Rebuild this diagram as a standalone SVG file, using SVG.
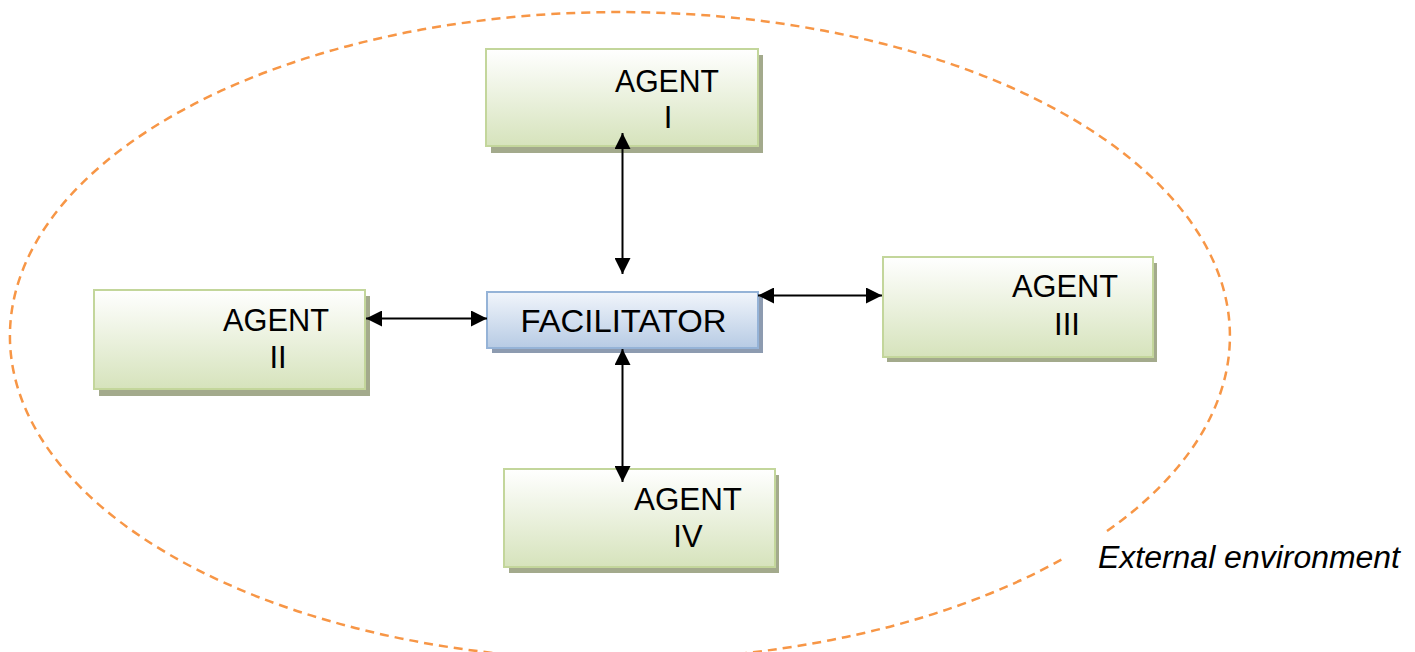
<svg xmlns="http://www.w3.org/2000/svg" width="1415" height="652" viewBox="0 0 1415 652">
<defs>
<linearGradient id="gGreen" x1="0" y1="0" x2="0" y2="1">
<stop offset="0" stop-color="#ffffff"/>
<stop offset="1" stop-color="#d6e3bc"/>
</linearGradient>
<linearGradient id="gBlue" x1="0" y1="0" x2="0" y2="1">
<stop offset="0" stop-color="#f1f5fb"/>
<stop offset="1" stop-color="#b7cbe4"/>
</linearGradient>
<marker id="ah" viewBox="0 0 10 10" refX="10" refY="5" markerWidth="8" markerHeight="8" markerUnits="strokeWidth" orient="auto-start-reverse">
<path d="M0,0 L10,5 L0,10 z" fill="#000"/>
</marker>
<style>
.shG{fill:#a3aa8c}
.shB{fill:#8d9bb0}
.boxG{fill:url(#gGreen);stroke:#c3d69b;stroke-width:2}
.boxB{fill:url(#gBlue);stroke:#95b3d7;stroke-width:2}
.t{font-family:"Liberation Sans",Arial,sans-serif;font-size:31px;fill:#000;text-anchor:middle}
.env{fill:none;stroke:#f79646;stroke-width:2.5;stroke-dasharray:9 6}
.c{stroke:#000;stroke-width:2;fill:none;marker-start:url(#ah);marker-end:url(#ah)}
</style>
</defs>
<rect width="1415" height="652" fill="#fff"/>
<path class="env" d="M1107,531.1 A610,324 0 1 0 1062,559.3"/>
<text x="1098" y="568" font-family="'Liberation Sans',Arial,sans-serif" font-size="31" font-style="italic" textLength="302" lengthAdjust="spacingAndGlyphs">External environment</text>
<g id="agent1">
<rect class="shG" x="491" y="55" width="272" height="98"/>
<rect class="boxG" x="486" y="49" width="272" height="97"/>
<text class="t" x="667" y="92" textLength="104" lengthAdjust="spacingAndGlyphs">AGENT</text>
<text class="t" x="668" y="128">I</text>
</g>
<g id="facilitator">
<rect class="shB" x="492" y="297" width="271" height="56"/>
<rect class="boxB" x="487" y="292" width="271" height="56"/>
<text class="t" x="623.5" y="332" font-size="32" textLength="206" lengthAdjust="spacingAndGlyphs">FACILITATOR</text>
</g>
<g id="agent2">
<rect class="shG" x="99" y="296" width="271" height="100"/>
<rect class="boxG" x="94" y="290" width="271" height="99"/>
<text class="t" x="276" y="331" textLength="106" lengthAdjust="spacingAndGlyphs">AGENT</text>
<text class="t" x="278" y="368">II</text>
</g>
<g id="agent3">
<rect class="shG" x="887" y="263" width="270" height="99"/>
<rect class="boxG" x="883" y="257" width="270" height="100"/>
<text class="t" x="1065" y="297" textLength="106" lengthAdjust="spacingAndGlyphs">AGENT</text>
<text class="t" x="1067" y="335">III</text>
</g>
<g id="agent4">
<rect class="shG" x="509" y="475" width="270" height="98"/>
<rect class="boxG" x="504" y="469" width="271" height="98"/>
<text class="t" x="688" y="510" textLength="108" lengthAdjust="spacingAndGlyphs">AGENT</text>
<text class="t" x="688" y="547">IV</text>
</g>
<g id="connectors">
<line class="c" x1="622.5" y1="133" x2="622.5" y2="274"/>
<line class="c" x1="622.5" y1="349" x2="622.5" y2="482"/>
<line class="c" x1="366" y1="318.5" x2="487" y2="318.5"/>
<line class="c" x1="758" y1="295.5" x2="882" y2="295.5"/>
</g>
</svg>
